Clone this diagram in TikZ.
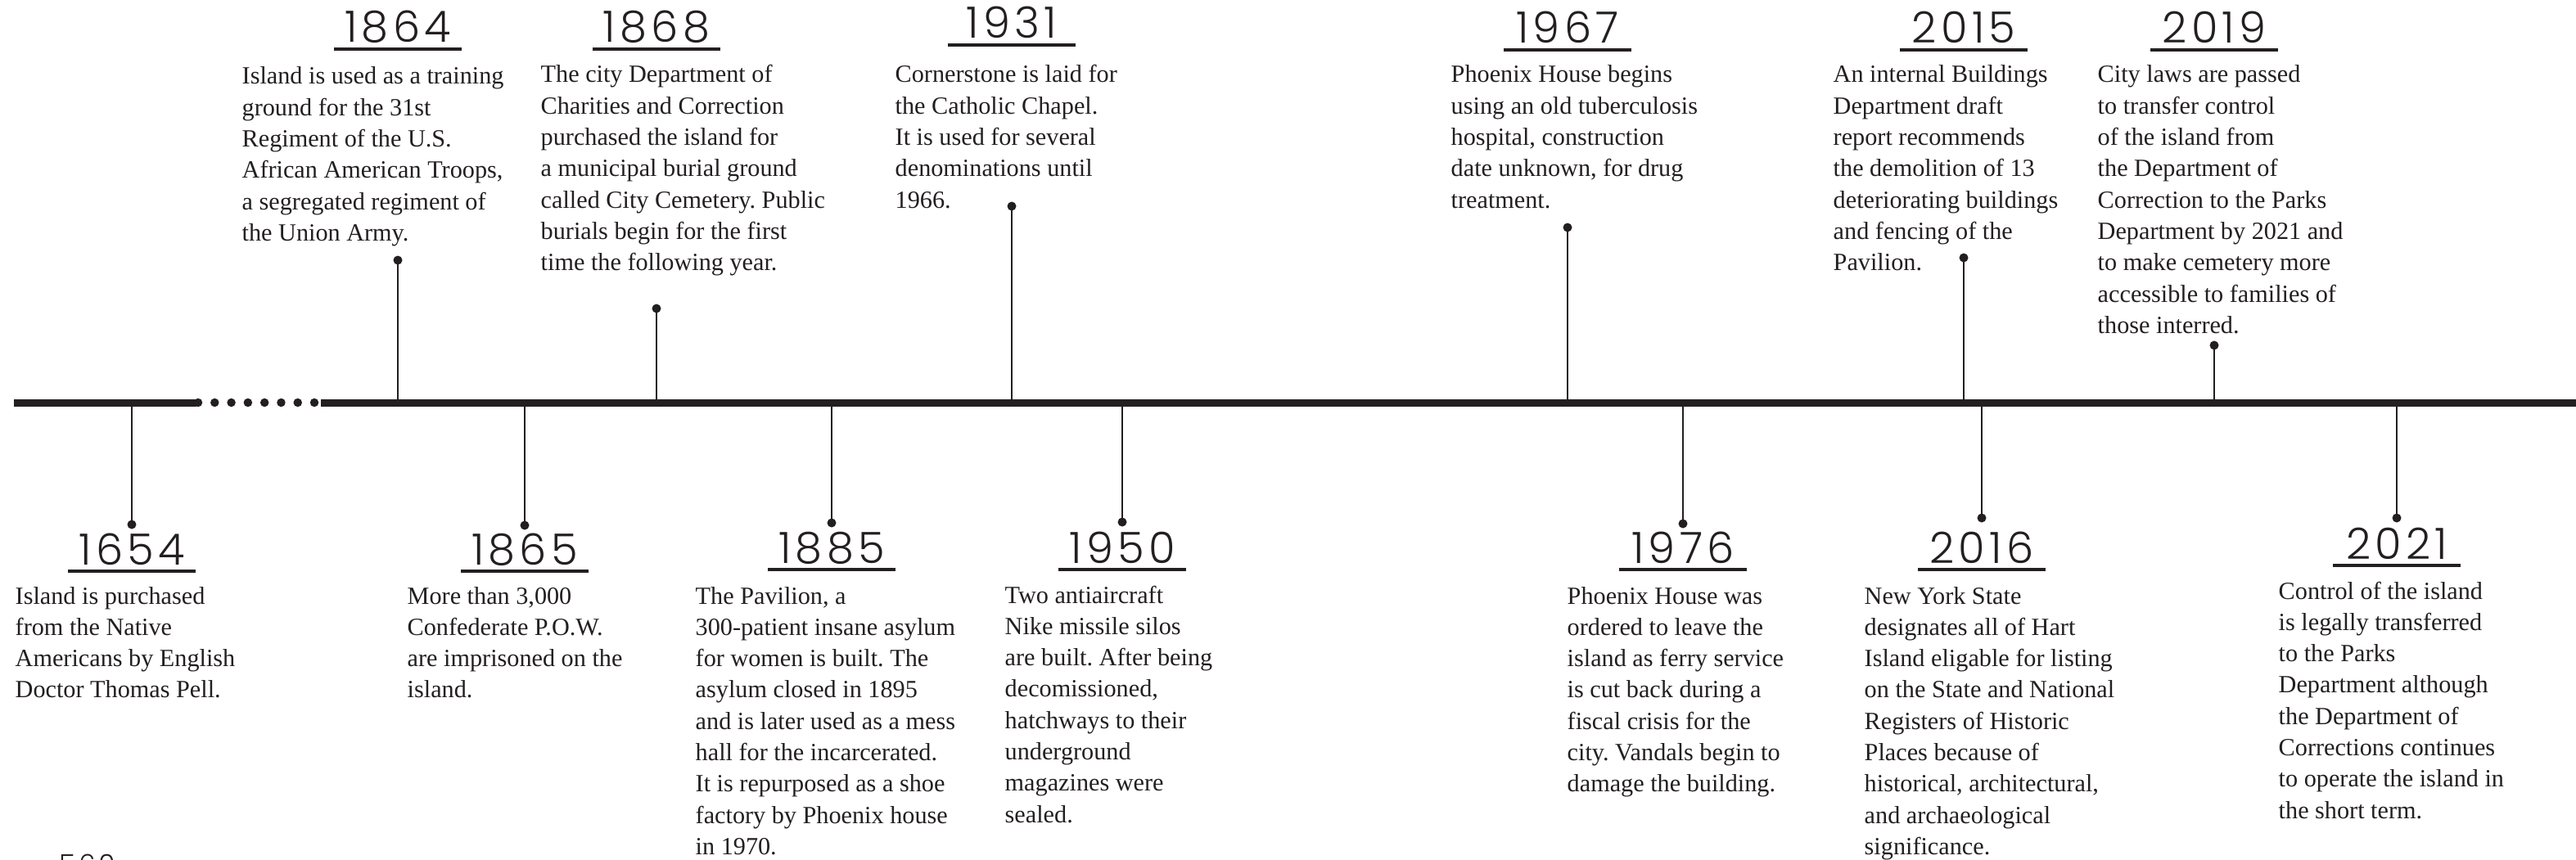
\documentclass[tikz,border=0pt]{standalone}
\usepackage{fontspec}
\setmainfont{Liberation Serif}
\newfontfamily\yearfont{Poppins Light}[LetterSpace=10]
\definecolor{ink}{RGB}{35,31,32}
\newcommand{\evfont}{\fontsize{8.6}{10.9}\selectfont}
\newcommand{\evlines}[1]{\begin{tabular}[t]{@{}l@{}}#1\end{tabular}}
\frenchspacing

\begin{document}
\begin{tikzpicture}[
  axis/.style={line width=0.09cm, color=ink},
  gapdots/.style={line width=0.105cm, line cap=round, dash pattern=on 0pt off 0.2029cm, color=ink},
  stem/.style={line width=0.025cm, color=ink},
  pin/.style={circle, fill=ink, inner sep=0pt, minimum size=0.11cm},
  year/.style={font=\yearfont\fontsize{15}{15}\selectfont, text=ink, anchor=base, inner sep=0pt, minimum width=1.54cm, text depth=0.075cm},
  ul/.style={line width=0.035cm, color=ink},
  evtext/.style={font=\evfont, text=ink, anchor=base west, inner sep=0pt}
]
\useasboundingbox (0,0) rectangle (31.47,-10.51);

%Stems above the line
\coordinate (s1864) at (4.86,-4.92);
\coordinate (s1868) at (8.02,-4.92);
\coordinate (s1931) at (12.36,-4.92);
\coordinate (s1967) at (19.15,-4.92);
\coordinate (s2015) at (23.99,-4.92);
\coordinate (s2019) at (27.05,-4.92);
\node [pin] (p1864) at (4.86,-3.18) {};
\node [pin] (p1868) at (8.02,-3.77) {};
\node [pin] (p1931) at (12.36,-2.52) {};
\node [pin] (p1967) at (19.15,-2.78) {};
\node [pin] (p2015) at (23.99,-3.15) {};
\node [pin] (p2019) at (27.05,-4.22) {};
\draw [stem] (s1864) to (p1864.center);
\draw [stem] (s1868) to (p1868.center);
\draw [stem] (s1931) to (p1931.center);
\draw [stem] (s1967) to (p1967.center);
\draw [stem] (s2015) to (p2015.center);
\draw [stem] (s2019) to (p2019.center);

%Stems below the line
\coordinate (s1654) at (1.61,-4.92);
\coordinate (s1865) at (6.41,-4.92);
\coordinate (s1885) at (10.16,-4.92);
\coordinate (s1950) at (13.71,-4.92);
\coordinate (s1976) at (20.56,-4.92);
\coordinate (s2016) at (24.21,-4.92);
\coordinate (s2021) at (29.28,-4.92);
\node [pin] (p1654) at (1.61,-6.41) {};
\node [pin] (p1865) at (6.41,-6.42) {};
\node [pin] (p1885) at (10.16,-6.39) {};
\node [pin] (p1950) at (13.71,-6.38) {};
\node [pin] (p1976) at (20.56,-6.40) {};
\node [pin] (p2016) at (24.21,-6.33) {};
\node [pin] (p2021) at (29.28,-6.33) {};
\draw [stem] (s1654) to (p1654.center);
\draw [stem] (s1865) to (p1865.center);
\draw [stem] (s1885) to (p1885.center);
\draw [stem] (s1950) to (p1950.center);
\draw [stem] (s1976) to (p1976.center);
\draw [stem] (s2016) to (p2016.center);
\draw [stem] (s2021) to (p2021.center);

%Main line
\coordinate (ax0) at (0.17,-4.92);
\coordinate (ax1) at (2.40,-4.92);
\coordinate (dt0) at (2.42,-4.92);
\coordinate (dt1) at (3.85,-4.92);
\coordinate (ax2) at (3.92,-4.92);
\coordinate (ax3) at (31.47,-4.92);
\draw [axis] (ax0) to (ax1);
\draw [gapdots] (dt0) to (dt1);
\draw [axis] (ax2) to (ax3);

%Years
\node [year] (y1864) at (4.86,-0.52) {1864};
\node [year] (y1868) at (8.02,-0.52) {1868};
\node [year] (y1931) at (12.36,-0.47) {1931};
\node [year] (y1967) at (19.15,-0.53) {1967};
\node [year] (y2015) at (23.99,-0.53) {2015};
\node [year] (y2019) at (27.05,-0.53) {2019};
\node [year] (y1654) at (1.61,-6.90) {1654};
\node [year] (y1865) at (6.41,-6.90) {1865};
\node [year] (y1885) at (10.16,-6.88) {1885};
\node [year] (y1950) at (13.71,-6.88) {1950};
\node [year] (y1976) at (20.56,-6.88) {1976};
\node [year] (y2016) at (24.21,-6.88) {2016};
\node [year] (y2021) at (29.28,-6.83) {2021};
\draw [ul] (y1864.south west) to (y1864.south east);
\draw [ul] (y1868.south west) to (y1868.south east);
\draw [ul] (y1931.south west) to (y1931.south east);
\draw [ul] (y1967.south west) to (y1967.south east);
\draw [ul] (y2015.south west) to (y2015.south east);
\draw [ul] (y2019.south west) to (y2019.south east);
\draw [ul] (y1654.south west) to (y1654.south east);
\draw [ul] (y1865.south west) to (y1865.south east);
\draw [ul] (y1885.south west) to (y1885.south east);
\draw [ul] (y1950.south west) to (y1950.south east);
\draw [ul] (y1976.south west) to (y1976.south east);
\draw [ul] (y2016.south west) to (y2016.south east);
\draw [ul] (y2021.south west) to (y2021.south east);

%Texts
\node [evtext] (t1864) at (2.95,-1.03) {\evlines{Island is used as a training\\ground for the 31st\\Regiment of the U.S.\\African American Troops,\\a segregated regiment of\\the Union Army.}};
\node [evtext] (t1868) at (6.60,-1.01) {\evlines{The city Department of\\Charities and Correction\\purchased the island for\\a municipal burial ground\\called City Cemetery. Public\\burials begin for the first\\time the following year.}};
\node [evtext] (t1931) at (10.93,-1.01) {\evlines{Cornerstone is laid for\\the Catholic Chapel.\\It is used for several\\denominations until\\1966.}};
\node [evtext] (t1967) at (17.72,-1.01) {\evlines{Phoenix House begins\\using an old tuberculosis\\hospital, construction\\date unknown, for drug\\treatment.}};
\node [evtext] (t2015) at (22.39,-1.01) {\evlines{An internal Buildings\\Department draft\\report recommends\\the demolition of 13\\deteriorating buildings\\and fencing of the\\Pavilion.}};
\node [evtext] (t2019) at (25.62,-1.01) {\evlines{City laws are passed\\to transfer control\\of the island from\\the Department of\\Correction to the Parks\\Department by 2021 and\\to make cemetery more\\accessible to families of\\those interred.}};
\node [evtext] (t1654) at (0.18,-7.38) {\evlines{Island is purchased\\from the Native\\Americans by English\\Doctor Thomas Pell.}};
\node [evtext] (t1865) at (4.97,-7.38) {\evlines{More than 3,000\\Confederate P.O.W.\\are imprisoned on the\\island.}};
\node [evtext] (t1885) at (8.49,-7.38) {\evlines{The Pavilion, a\\300-patient insane asylum\\for women is built. The\\asylum closed in 1895\\and is later used as a mess\\hall for the incarcerated.\\It is repurposed as a shoe\\factory by Phoenix house\\in 1970.}};
\node [evtext] (t1950) at (12.27,-7.37) {\evlines{Two antiaircraft\\Nike missile silos\\are built. After being\\decomissioned,\\hatchways to their\\underground\\magazines were\\sealed.}};
\node [evtext] (t1976) at (19.14,-7.38) {\evlines{Phoenix House was\\ordered to leave the\\island as ferry service\\is cut back during a\\fiscal crisis for the\\city. Vandals begin to\\damage the building.}};
\node [evtext] (t2016) at (22.77,-7.38) {\evlines{New York State\\designates all of Hart\\Island eligable for listing\\on the State and National\\Registers of Historic\\Places because of\\historical, architectural,\\and archaeological\\significance.}};
\node [evtext] (t2021) at (27.83,-7.32) {\evlines{Control of the island\\is legally transferred\\to the Parks\\Department although\\the Department of\\Corrections continues\\to operate the island in\\the short term.}};

%Page number
\node [font=\yearfont\fontsize{9.5}{9.5}\selectfont, text=ink, anchor=base west, inner sep=0pt] (pg) at (0.72,-10.68) {560};
\end{tikzpicture}
\end{document}
